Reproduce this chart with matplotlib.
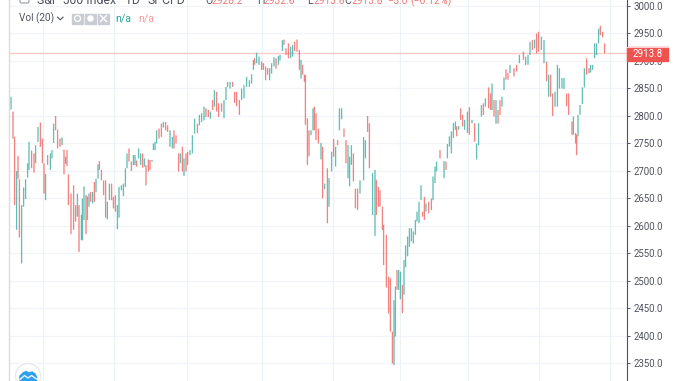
import matplotlib
matplotlib.use("Agg")
import matplotlib.pyplot as plt
from matplotlib.patches import Circle, FancyBboxPatch, Polygon, Rectangle

plt.rcParams["font.family"] = ["Roboto", "DejaVu Sans"]

W, H = 678, 381
TEAL = "#26a69a"
RED = "#ef5350"
GREY = "#50535e"

# price axis
price_ticks = [2350, 2400, 2450, 2500, 2550, 2600, 2650, 2700, 2750, 2800, 2850,
               2900, 2950, 3000]
# month gridlines, in sessions from the first bar
month_sessions = [16, 51.5, 88, 125.5, 161, 194.5, 228.5, 264, 299.5]
last_price = 2913.8

# one entry per daily bar
sessions = [
    0, 1, 1.8, 2.8, 3.5, 4.2, 5.3, 6.3, 7.3, 8.3,
    9, 10.3, 11.5, 12.3, 13.5, 14.7, 15.7, 16.5, 17.3, 18.3,
    19.7, 20.5, 21.3, 22.3, 23.3, 24.5, 25.5, 26.5, 27.3, 28,
    28.7, 30, 31.3, 32.3, 33.2, 34, 35.2, 35.7, 36.5, 37.5,
    38.2, 39, 39.8, 40.8, 41.7, 42.5, 43.5, 44.2, 45.2, 46.3,
    47.3, 48.2, 49.2, 50.3, 51.2, 52.2, 53.2, 54, 55.2, 56.2,
    57.2, 58, 59, 60.2, 61.2, 62, 62.8, 63.8, 64.8, 65.8,
    66.7, 67.5, 68.7, 69.5, 70.5, 71.2, 72, 72.8, 74, 75.2,
    76.2, 77.3, 78.3, 79.5, 80.7, 81.5, 82.5, 83.8, 84.7, 85.7,
    86.5, 87.5, 88.3, 89.5, 90.7, 91.8, 93.2, 94.2, 95.3, 96.5,
    97.5, 98.7, 99.7, 100.8, 101.7, 102.8, 103.8, 105.3, 106.5, 107.5,
    108.3, 109.5, 110.8, 111.8, 112.8, 114.2, 115.3, 116.5, 117.8, 119.2,
    120.3, 121.2, 121.8, 122.8, 124, 125.3, 126.2, 127.3, 128.3, 129.3,
    130.3, 131.5, 132.5, 133.7, 134.5, 135.7, 136.5, 137.5, 138.7, 139.8,
    140.8, 141.8, 143, 144.2, 145, 145.8, 146.7, 147.2, 148.2, 149,
    150, 151, 151.7, 152.5, 153.7, 155, 155.8, 156.8, 158.2, 159,
    160.3, 161.3, 162.3, 163.3, 164.2, 165.3, 166.5, 167.5, 168.5, 169.3,
    170.2, 171.2, 172.2, 173.3, 174.5, 176.3, 177.2, 178.3, 179.2, 180.8,
    182, 182.7, 183.7, 184.5, 185.7, 186.3, 187.7, 188.8, 189.7, 190.7,
    191.5, 192.2, 193, 193.8, 194.7, 195.7, 196.5, 197.3, 198.3, 199.2,
    200.2, 201.2, 202.2, 203, 204, 205, 205.8, 206.7, 207.5, 208.8,
    210.2, 211, 212, 212.8, 214.5, 216.5, 217.5, 218.2, 219.2, 220.2,
    221.2, 222.2, 222.8, 223.8, 224.8, 225.8, 226.8, 228.2, 229.2, 230.5,
    231.8, 232.8, 233.8, 235.2, 236.2, 237.2, 238.8, 239.8, 240.5, 241.5,
    242.5, 243.5, 244.5, 245.5, 246.5, 247.5, 248.5, 249.5, 251.5, 252.8,
    254.2, 256.2, 257.3, 258.5, 259.5, 260.7, 261.8, 262.8, 263.8, 265.2,
    266.5, 267.8, 268.8, 269.8, 270.8, 272, 273.2, 274.2, 275.5, 276.5,
    277.8, 278.8, 280.5, 281.2, 282.3, 282.8, 283.5, 284.5, 285.7, 286.7,
    287.8, 289, 289.8, 290.8, 291.8, 292.8, 293.8, 294.7, 295.8, 296.8,
]
highs = [
    2835, 2808, 2762, 2700, 2727, 2685, 2638, 2670, 2685, 2714,
    2753, 2737, 2732, 2747, 2780, 2788, 2759, 2714, 2695, 2729,
    2732, 2738, 2786, 2800, 2775, 2759, 2761, 2739, 2726, 2738,
    2694, 2659, 2674, 2638, 2659, 2638, 2620, 2650, 2672, 2656,
    2654, 2659, 2662, 2662, 2680, 2686, 2712, 2718, 2702, 2683,
    2683, 2644, 2677, 2677, 2653, 2656, 2638, 2671, 2674, 2677,
    2705, 2732, 2741, 2717, 2729, 2729, 2719, 2741, 2732, 2732,
    2723, 2711, 2721, 2720, 2720, 2750, 2753, 2774, 2777, 2786,
    2789, 2789, 2783, 2774, 2762, 2774, 2765, 2732, 2732, 2744,
    2723, 2732, 2735, 2738, 2765, 2795, 2786, 2802, 2805, 2817,
    2814, 2811, 2808, 2829, 2847, 2844, 2823, 2823, 2829, 2853,
    2862, 2862, 2862, 2844, 2844, 2829, 2850, 2856, 2871, 2865,
    2876, 2902, 2905, 2915, 2908, 2899, 2896, 2890, 2887, 2887,
    2896, 2907, 2905, 2909, 2911, 2938, 2939, 2923, 2932, 2926,
    2929, 2935, 2939, 2920, 2902, 2893, 2875, 2875, 2796, 2774,
    2774, 2814, 2817, 2805, 2777, 2751, 2744, 2677, 2705, 2687,
    2735, 2758, 2744, 2756, 2814, 2814, 2777, 2756, 2747, 2726,
    2747, 2732, 2668, 2668, 2683, 2762, 2756, 2800, 2787, 2696,
    2702, 2684, 2671, 2665, 2635, 2602, 2584, 2508, 2505, 2408,
    2465, 2490, 2520, 2520, 2517, 2493, 2538, 2565, 2581, 2596,
    2596, 2590, 2611, 2626, 2644, 2674, 2626, 2653, 2641, 2644,
    2650, 2690, 2708, 2717, 2738, 2718, 2717, 2749, 2763, 2772,
    2787, 2790, 2781, 2782, 2814, 2802, 2793, 2808, 2816, 2793,
    2787, 2750, 2787, 2820, 2823, 2832, 2852, 2841, 2859, 2829,
    2829, 2811, 2829, 2835, 2870, 2885, 2878, 2893, 2887, 2893,
    2911, 2917, 2908, 2911, 2935, 2938, 2939, 2950, 2953, 2944,
    2938, 2899, 2875, 2875, 2841, 2844, 2893, 2887, 2869, 2869,
    2841, 2841, 2790, 2799, 2769, 2766, 2802, 2820, 2852, 2887,
    2905, 2887, 2893, 2893, 2932, 2932, 2959, 2964, 2953, 2932,
]
lows = [
    2812, 2759, 2638, 2593, 2686, 2579, 2532, 2635, 2649, 2688,
    2702, 2705, 2697, 2714, 2753, 2744, 2714, 2659, 2647, 2711,
    2702, 2723, 2751, 2774, 2741, 2744, 2747, 2694, 2713, 2709,
    2638, 2585, 2593, 2608, 2617, 2553, 2574, 2574, 2611, 2585,
    2611, 2635, 2644, 2641, 2644, 2662, 2686, 2702, 2683, 2656,
    2615, 2612, 2647, 2647, 2632, 2626, 2594, 2615, 2665, 2654,
    2671, 2705, 2717, 2700, 2711, 2711, 2708, 2723, 2711, 2706,
    2708, 2674, 2699, 2702, 2717, 2738, 2738, 2750, 2759, 2762,
    2779, 2774, 2771, 2744, 2741, 2741, 2750, 2699, 2714, 2699,
    2691, 2699, 2711, 2729, 2732, 2768, 2769, 2783, 2789, 2792,
    2798, 2798, 2795, 2811, 2817, 2808, 2798, 2808, 2796, 2829,
    2853, 2850, 2853, 2824, 2818, 2802, 2829, 2832, 2853, 2853,
    2859, 2884, 2893, 2896, 2893, 2884, 2884, 2865, 2875, 2865,
    2877, 2890, 2886, 2893, 2901, 2918, 2929, 2911, 2905, 2905,
    2908, 2918, 2917, 2884, 2868, 2875, 2862, 2784, 2711, 2727,
    2765, 2774, 2774, 2756, 2750, 2721, 2650, 2667, 2605, 2635,
    2699, 2726, 2708, 2747, 2774, 2794, 2762, 2714, 2687, 2672,
    2711, 2681, 2632, 2629, 2659, 2683, 2723, 2771, 2705, 2620,
    2582, 2620, 2635, 2635, 2593, 2529, 2488, 2441, 2408, 2350,
    2347, 2399, 2484, 2484, 2467, 2442, 2475, 2525, 2545, 2562,
    2572, 2568, 2584, 2608, 2605, 2647, 2617, 2611, 2626, 2623,
    2629, 2647, 2678, 2699, 2723, 2687, 2702, 2723, 2744, 2732,
    2760, 2775, 2763, 2775, 2793, 2781, 2775, 2769, 2766, 2787,
    2753, 2721, 2747, 2799, 2802, 2817, 2814, 2811, 2811, 2799,
    2786, 2786, 2802, 2817, 2847, 2866, 2866, 2878, 2872, 2881,
    2896, 2902, 2893, 2893, 2911, 2920, 2923, 2914, 2917, 2920,
    2896, 2863, 2835, 2835, 2800, 2817, 2817, 2850, 2850, 2849,
    2818, 2802, 2766, 2766, 2750, 2729, 2763, 2802, 2822, 2852,
    2875, 2878, 2879, 2884, 2905, 2911, 2932, 2947, 2943, 2914,
]
# u = closed up, d = closed down
moves = (
    "uddudduuuu" "udduudddud" "uuudddudud" "dddduduuud" "dududuuddd"
    "duuddduuuu" "uudduuduud" "uddduuuudd" "udduudddud" "udduuuduuu"
    "ddududdduu" "uudddduuuu" "uuduuddddu" "uuduuudddu" "uddduddddd"
    "uudddududu" "ududuudduu" "uddduuuddu" "uddddddddd" "uuduuduuuu"
    "uuuuuuddud" "duuududuuu" "uududduudu" "duuududdud" "udduuddudd"
    "uduuududdu" "ududduuuuu" "dddudduuuu" "dduuuuuddd"
)

fig = plt.figure(figsize=(W / 100, H / 100), dpi=100, facecolor="white")

# main price pane, 0.55 px per index point and 2 px per session
ax = fig.add_axes([9 / W, 0, (627 - 9) / W, 1])
ax.set_xlim(-1, 308)
ax.set_ylim(3010.9 - 381 / 0.55, 3010.9)
for s in ["top", "left", "bottom"]:
    ax.spines[s].set_visible(False)
ax.spines["right"].set_color(GREY)
ax.spines["right"].set_linewidth(0.8)
ax.set_xticks([])
ax.yaxis.tick_right()
ax.set_yticks(price_ticks)
ax.set_yticklabels([f"{p:.1f}" for p in price_ticks])
ax.tick_params(axis="y", length=2.4, width=0.7, color=GREY, labelcolor=GREY,
               labelsize=6.9, pad=2.6)

for p in price_ticks:
    ax.axhline(p, color="#f1f4f8", lw=0.9, zorder=1)
for s in month_sessions:
    ax.axvline(s, color="#eaf3f5", lw=0.9, zorder=1)
ax.axhline(last_price, color="#fccaca", lw=1.0, zorder=2)

for s, hi, lo, m in zip(sessions, highs, lows, moves):
    line = ax.vlines(s, lo, hi, color=TEAL if m == "u" else RED, lw=0.95, alpha=0.72, zorder=3)
    line.set_snap(False)

# overlay in picture pixels for the chart furniture
ov = fig.add_axes([0, 0, 1, 1], facecolor="none")
ov.set_xlim(0, W)
ov.set_ylim(H, 0)
ov.axis("off")

ov.plot([8.5, 8.5], [0, H], color="#dcdcdc", lw=1.0)

# last price tag
ov.add_patch(Rectangle((627, 47), 41, 14, color=RED, zorder=5))
ov.plot([627, 668], [46.5, 46.5], color="#fbd0d0", lw=0.8, zorder=5)
ov.text(647.5, 54, f"{last_price:.1f}", color="white", fontsize=7.0, ha="center",
        va="center", zorder=6)

# clipped header row
ov.add_patch(FancyBboxPatch((20, -4), 9, 7, boxstyle="round,pad=0,rounding_size=1.5",
                            fc="white", ec="#8a8d96", lw=0.7))
ov.text(37, 4.5, "S&P 500 Index", color=GREY, fontsize=8.8, va="baseline")
ov.text(125, 4.5, "1D", color=GREY, fontsize=8.8, va="baseline")
ov.text(148, 4.5, "SPCFD", color=GREY, fontsize=8.8, va="baseline")
for x, letter, val in [(205, "O", "2928.2"), (257, "H", "2932.6"),
                       (307, "L", "2913.8"), (344, "C", "2913.8")]:
    ov.text(x, 4.5, letter, color=GREY, fontsize=7.6, va="baseline")
    ov.text(x + 7, 4.5, val, color="#f07a78", fontsize=7.4, va="baseline")
ov.text(387, 4.5, "\u22125.0", color="#f07a78", fontsize=7.6, va="baseline")
ov.text(410, 4.5, "(\u22120.12%)", color="#f07a78", fontsize=7.6, va="baseline")
ov.text(622, 0.5, "\u2022 Market Closed", color="#9a9da6", fontsize=6.8, va="baseline", ha="right")

# volume legend
ov.text(19, 18.5, "Vol (20)", color=GREY, fontsize=7.2, va="center")
ov.plot([57.5, 60.2, 63], [17.2, 19.8, 17.2], color=GREY, lw=0.8)
for x in [72, 85, 98]:
    ov.add_patch(Rectangle((x, 13.5), 11, 10, color="#c9ccd2"))
ov.add_patch(Circle((77.5, 18.5), 3, fc="none", ec="white", lw=0.9))
ov.add_patch(Circle((90.5, 18.5), 2.6, fc="white", ec="white", lw=0.9))
ov.plot([100.5, 106.5], [15.5, 21.5], color="white", lw=1.0)
ov.plot([100.5, 106.5], [21.5, 15.5], color="white", lw=1.0)
ov.text(115, 18.5, "n/a", color=TEAL, fontsize=7.6, va="center")
ov.text(138, 18.5, "n/a", color="#f89b9a", fontsize=7.6, va="center")

# logo in the lower left corner
ov.add_patch(Circle((28, 376), 12.5, fc="white", ec="#e6e8ec", lw=0.9))
ov.add_patch(Polygon([(20, 381), (20, 376), (23, 373), (26, 371.5), (29, 373), (32, 372),
                      (35, 374), (36.5, 377), (36.5, 381)], color="#2f9ff0"))
ov.plot([20, 24.5, 28, 31.5, 36.5], [379.5, 375.5, 378, 375.5, 379], color="white", lw=0.9)

fig.savefig("out.png", dpi=100)
